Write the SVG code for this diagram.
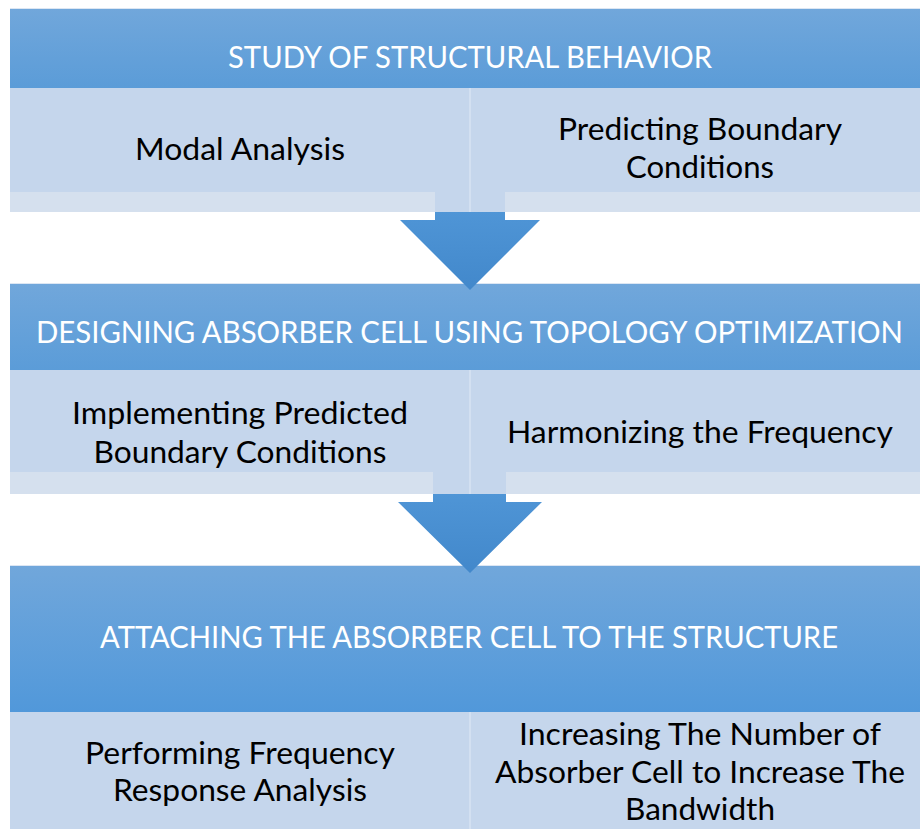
<svg xmlns="http://www.w3.org/2000/svg" width="920" height="829" viewBox="0 0 920 829">
<defs>
<linearGradient id="hdr" x1="0" y1="0" x2="0" y2="1">
<stop offset="0" stop-color="#71A7DB"/>
<stop offset="1" stop-color="#5B9CD8"/>
</linearGradient>
<linearGradient id="hdr3" x1="0" y1="0" x2="0" y2="1">
<stop offset="0" stop-color="#71A7DB"/>
<stop offset="1" stop-color="#5198DA"/>
</linearGradient>
<linearGradient id="arr" x1="0" y1="0" x2="0" y2="1">
<stop offset="0" stop-color="#4F95D6"/>
<stop offset="1" stop-color="#4288CB"/>
</linearGradient>
</defs>
<style>
.hd{font-family:Lato,"Open Sans","Liberation Sans",sans-serif;font-size:30px;fill:#FFFFFF;text-anchor:middle}
.tx{font-family:Lato,"Open Sans","Liberation Sans",sans-serif;font-size:30px;fill:#000000;text-anchor:middle}
.sub{fill:#C5D6EC}
.strip{fill:#D5E0EE}
.div{stroke:#D3E0F1;stroke-width:2}
.edge{stroke:#DCE6F3;stroke-width:1;fill:none}
</style>
<rect width="920" height="829" fill="#FFFFFF"/>

<g id="step1">
<rect class="strip" x="10" y="192" width="910" height="20"/>
<rect class="sub" x="10" y="88" width="910" height="104"/>
<rect class="sub" x="435" y="192" width="70" height="20"/>
<line class="div" x1="470" y1="88" x2="470" y2="212"/>
<rect x="10" y="8" width="910" height="80" fill="url(#hdr)"/>
<line class="edge" x1="10" y1="8.5" x2="920" y2="8.5"/>
<text class="hd" x="470" y="68" textLength="484" lengthAdjust="spacingAndGlyphs">STUDY OF STRUCTURAL BEHAVIOR</text>
<text class="tx" x="240" y="160" textLength="210" lengthAdjust="spacingAndGlyphs">Modal Analysis</text>
<text class="tx" x="700" y="140" textLength="284" lengthAdjust="spacingAndGlyphs">Predicting Boundary</text>
<text class="tx" x="700" y="178" textLength="148" lengthAdjust="spacingAndGlyphs">Conditions</text>
</g>

<g id="step2">
<rect class="strip" x="10" y="472" width="910" height="22"/>
<rect class="sub" x="10" y="370" width="910" height="102"/>
<rect class="sub" x="433" y="472" width="73" height="22"/>
<line class="div" x1="470" y1="370" x2="470" y2="494"/>
<rect x="10" y="283" width="910" height="87" fill="url(#hdr)"/>
<line class="edge" x1="10" y1="283.5" x2="920" y2="283.5"/>
<text class="hd" x="469.5" y="343" textLength="867" lengthAdjust="spacingAndGlyphs">DESIGNING ABSORBER CELL USING TOPOLOGY OPTIMIZATION</text>
<text class="tx" x="240" y="424" textLength="336" lengthAdjust="spacingAndGlyphs">Implementing Predicted</text>
<text class="tx" x="240" y="463" textLength="293" lengthAdjust="spacingAndGlyphs">Boundary Conditions</text>
<text class="tx" x="700" y="443" textLength="386" lengthAdjust="spacingAndGlyphs">Harmonizing the Frequency</text>
</g>

<g id="step3">
<rect class="sub" x="10" y="712" width="910" height="117"/>
<line class="div" x1="470" y1="712" x2="470" y2="829"/>
<rect x="10" y="565" width="910" height="147" fill="url(#hdr3)"/>
<line class="edge" x1="10" y1="565.5" x2="920" y2="565.5"/>
<text class="hd" x="469" y="648" textLength="738" lengthAdjust="spacingAndGlyphs">ATTACHING THE ABSORBER CELL TO THE STRUCTURE</text>
<text class="tx" x="240" y="764" textLength="310" lengthAdjust="spacingAndGlyphs">Performing Frequency</text>
<text class="tx" x="240" y="801" textLength="254" lengthAdjust="spacingAndGlyphs">Response Analysis</text>
<text class="tx" x="700" y="745" textLength="362" lengthAdjust="spacingAndGlyphs">Increasing The Number of</text>
<text class="tx" x="700" y="783" textLength="410" lengthAdjust="spacingAndGlyphs">Absorber Cell to Increase The</text>
<text class="tx" x="700" y="820" textLength="150" lengthAdjust="spacingAndGlyphs">Bandwidth</text>
</g>

<g id="connectors">
<polygon points="435,212 505,212 505,220 540,220 470,290 400,220 435,220" fill="url(#arr)"/>
<polygon points="433,494 506,494 506,502 542,502 470,573 398,502 433,502" fill="url(#arr)"/>
</g>
</svg>
